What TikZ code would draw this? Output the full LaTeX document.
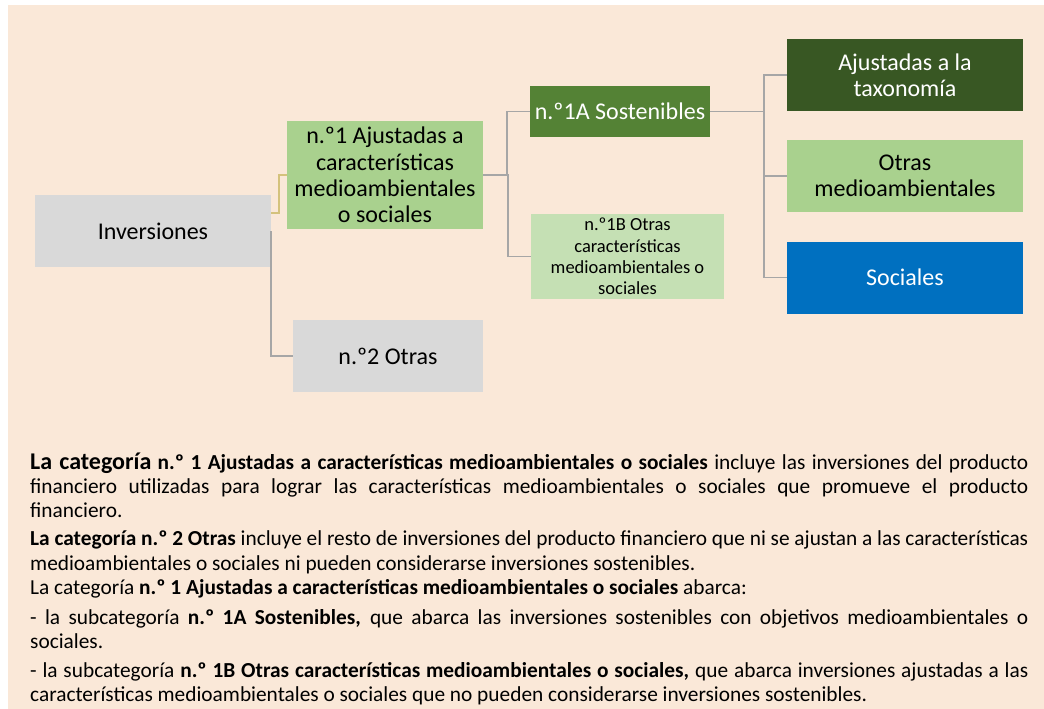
\documentclass[tikz,border=0pt]{standalone}
\usepackage{fontspec}
\setmainfont{Carlito}
\definecolor{bgpeach}{HTML}{FAE8D8}
\definecolor{cgrey}{HTML}{D9D9D9}
\definecolor{lgreen}{HTML}{A9D18E}
\definecolor{mgreen}{HTML}{548235}
\definecolor{pgreen}{HTML}{C5E0B4}
\definecolor{dgreen}{HTML}{385723}
\definecolor{cblue}{HTML}{0070C0}
\definecolor{lgrey}{HTML}{A6A6A6}
\definecolor{khaki}{HTML}{D4C27C}
\begin{document}
\begin{tikzpicture}[x=1pt,y=-1pt,
  box/.style={rectangle, inner sep=0pt, align=center, font=\fontsize{24}{26.3}\selectfont},
  smallbox/.style={rectangle, inner sep=0pt, align=center, font=\fontsize{18.5}{21.4}\selectfont},
  conn/.style={draw=lgrey, line width=1.6pt},
  yconn/.style={draw=khaki, line width=1.6pt},
  body/.style={anchor=base west, inner sep=0pt, font=\fontsize{21.35}{24}\selectfont, text=black}]
\useasboundingbox (0,0) rectangle (1044,709);
\fill[white] (0,0) rectangle (1044,709);
\fill[bgpeach] (8,5) rectangle (1044,709);

% boxes
\node[box, fill=cgrey, minimum width=236pt, minimum height=72pt] (inv) at (153,231) {Inversiones};
\node[box, fill=lgreen, minimum width=196pt, minimum height=108pt] (n1) at (385,175) {n.º1 Ajustadas a\\características\\medioambientales\\o sociales};
\node[box, fill=cgrey, minimum width=190pt, minimum height=72pt] (n2) at (388,356) {n.º2 Otras};
\node[box, fill=mgreen, text=white, minimum width=180pt, minimum height=51pt] (s1a) at (620,111.5) {n.º1A Sostenibles};
\node[smallbox, fill=pgreen, minimum width=193pt, minimum height=85pt] (s1b) at (627.5,256.5) {n.º1B Otras\\características\\medioambientales o\\sociales};
\node[box, fill=dgreen, text=white, minimum width=236pt, minimum height=72pt] (taxo) at (905,75) {Ajustadas a la\\taxonomía};
\node[box, fill=lgreen, minimum width=236pt, minimum height=72pt] (otras) at (905,176) {Otras\\medioambientales};
\node[box, fill=cblue, text=white, minimum width=236pt, minimum height=72pt] (soc) at (905,277.5) {Sociales};

% connectors
\draw[yconn] ([yshift=18pt]inv.east) -- ++(8,0) |- (n1.west);
\draw[conn] (inv.east) |- (n2.west);
\draw[conn] (n1.east) -- ++(24,0) |- (s1a.west);
\draw[conn] (n1.east) -- ++(25,0) |- (s1b.west);
\draw[conn] (s1a.east) -- ++(54,0) |- (taxo.west);
\draw[conn] (s1a.east) -- ++(54,0) |- (otras.west);
\draw[conn] (s1a.east) -- ++(54,0) |- (soc.west);

% body text
\node[body] (l1) at (30,469) {\makebox[998pt][s]{{\fontsize{24}{24}\selectfont\bfseries La categoría} \textbf{n.º 1 Ajustadas a características medioambientales o sociales} incluye las inversiones del producto}};
\node[body] (l2) at (30,493) {\makebox[998pt][s]{financiero utilizadas para lograr las características medioambientales o sociales que promueve el producto}};
\node[body] (l3) at (30,517) {financiero.};
\node[body] (l4) at (30,545) {\makebox[998pt][s]{\textbf{La categoría n.º 2 Otras} incluye el resto de inversiones del producto financiero que ni se ajustan a las características}};
\node[body] (l5) at (30,570) {medioambientales o sociales ni pueden considerarse inversiones sostenibles.};
\node[body] (l6) at (30,594) {La categoría \textbf{n.º 1 Ajustadas a características medioambientales o sociales} abarca:};
\node[body] (l7) at (30,624) {\makebox[998pt][s]{- la subcategoría \textbf{n.º 1A Sostenibles,} que abarca las inversiones sostenibles con objetivos medioambientales o}};
\node[body] (l8) at (30,648) {sociales.};
\node[body] (l9) at (30,677) {\makebox[998pt][s]{- la subcategoría \textbf{n.º 1B Otras características medioambientales o sociales,} que abarca inversiones ajustadas a las}};
\node[body] (l10) at (30,701) {características medioambientales o sociales que no pueden considerarse inversiones sostenibles.};
\end{tikzpicture}
\end{document}
